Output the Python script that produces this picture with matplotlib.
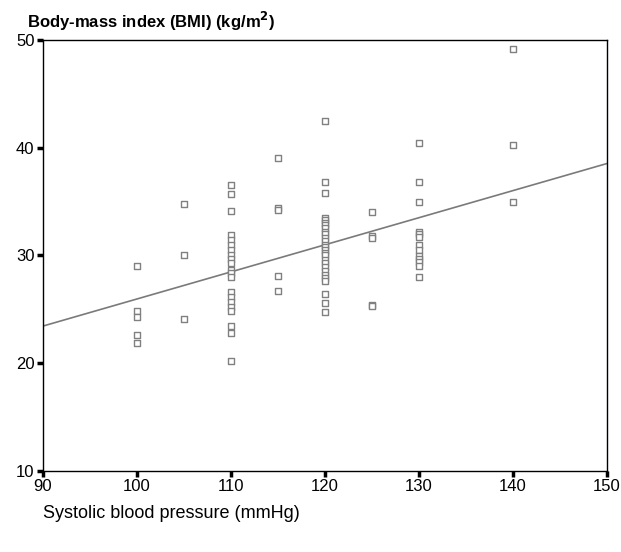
import numpy as np
import matplotlib
matplotlib.use("Agg")
import matplotlib.pyplot as plt

plt.rcParams['font.family'] = ['Liberation Sans', 'DejaVu Sans']

# systolic blood pressure groups and BMI readings per group
sbp_100 = [29.0, 24.8, 24.3, 22.6, 21.9]
sbp_105 = [34.8, 30.0, 24.1]
sbp_110 = [36.5, 35.7, 34.1, 31.9, 31.45, 31.0, 30.5, 30.05, 29.7, 29.3,
           28.6, 28.4, 28.0, 26.6, 26.1, 25.7, 25.2, 24.8, 23.4, 22.8, 20.2]
sbp_115 = [39.0, 34.4, 34.2, 28.1, 26.7]
sbp_120 = [42.5, 36.8, 35.8, 33.5, 33.3, 33.0, 32.8, 32.5, 32.2, 32.0,
           31.6, 31.3, 31.0, 30.8, 30.5, 30.2, 30.0, 29.6, 29.3, 28.9,
           28.5, 28.2, 27.9, 27.6, 26.4, 25.6, 24.7]
sbp_125 = [34.0, 31.8, 31.6, 25.4, 25.3]
sbp_130 = [40.4, 36.8, 34.9, 32.2, 32.0, 31.7, 31.0, 30.45, 29.9, 29.65,
           29.4, 29.0, 28.0]
sbp_140 = [49.1, 40.2, 34.9]

groups = {100: sbp_100, 105: sbp_105, 110: sbp_110, 115: sbp_115,
          120: sbp_120, 125: sbp_125, 130: sbp_130, 140: sbp_140}

x = np.concatenate([[k] * len(v) for k, v in groups.items()]).astype(float)
y = np.concatenate([v for v in groups.values()])

xticks = [90, 100, 110, 120, 130, 140, 150]
yticks = [10, 20, 30, 40, 50]

fig = plt.figure(figsize=(6.21, 5.52), dpi=100)
ax = fig.add_axes([0.069, 0.147, 0.908, 0.781])

ax.scatter(x, y, marker='s', s=22, facecolors='white', edgecolors='#808080',
           linewidths=1.0, zorder=3)

# least squares fit line
slope, intercept = np.polyfit(x, y, 1)
xs = np.array([90, 150])
ax.plot(xs, slope * xs + intercept, color='#7a7a7a', linewidth=1.2, zorder=2)

ax.set_xlim(90, 150)
ax.set_ylim(10, 50)
ax.set_xticks(xticks)
ax.set_yticks(yticks)
ax.tick_params(axis='both', direction='out', length=4, width=2.5,
               labelsize=12, color='black', pad=2)
for s in ax.spines.values():
    s.set_linewidth(1.0)

fig.text(0.043, 0.962, 'Body-mass index (BMI) (kg/m$^{\\mathbf{2}}$)',
         fontsize=12, fontweight='bold', ha='left', va='center')
fig.text(0.069, 0.07, 'Systolic blood pressure (mmHg)', fontsize=13,
         ha='left', va='center')

fig.savefig('out.png', dpi=100)
